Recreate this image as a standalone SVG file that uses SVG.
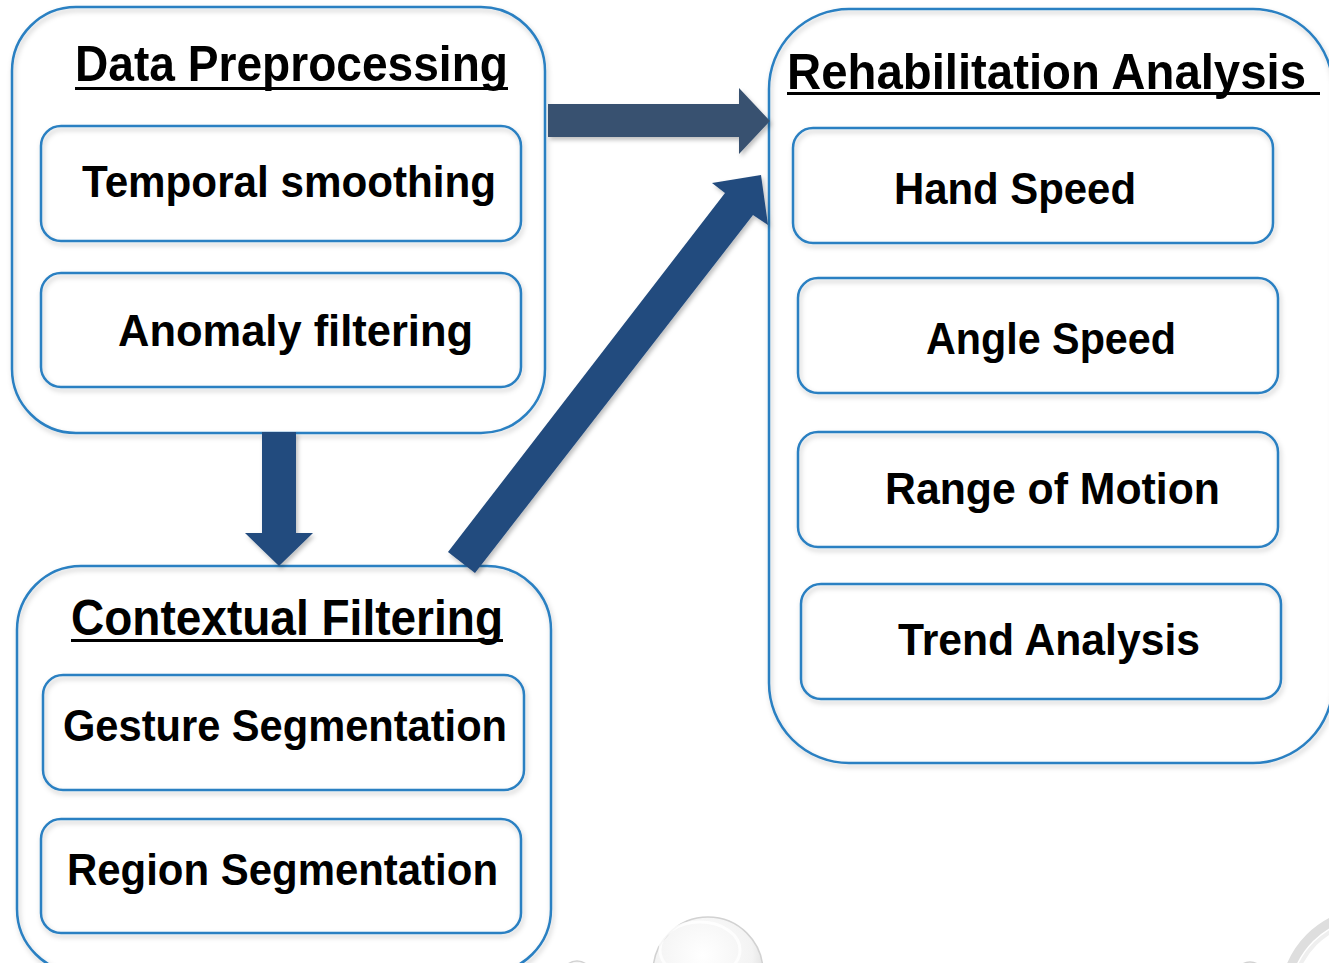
<svg xmlns="http://www.w3.org/2000/svg" width="1329" height="963" viewBox="0 0 1329 963">
  <defs>
    <filter id="soft" x="-10%" y="-10%" width="120%" height="130%">
      <feDropShadow dx="1.5" dy="3" stdDeviation="2.5" flood-color="#000" flood-opacity="0.22"/>
    </filter>
    <filter id="arrowShadow" x="-10%" y="-10%" width="130%" height="130%">
      <feDropShadow dx="2" dy="3" stdDeviation="2" flood-color="#000" flood-opacity="0.25"/>
    </filter>
    <radialGradient id="bubble" cx="45%" cy="35%" r="65%">
      <stop offset="0" stop-color="#ffffff"/>
      <stop offset="0.7" stop-color="#f3f3f3"/>
      <stop offset="1" stop-color="#d6d6d6"/>
    </radialGradient>
    <style>
      .outer { fill: none; stroke: #2b80c2; stroke-width: 2.5; }
      .inner { fill: none; stroke: #2b80c2; stroke-width: 2.5; }
      .title { font-family: "Liberation Sans", Arial, sans-serif; font-weight: bold; font-size: 50px; fill: #000; }
      .label { font-family: "Liberation Sans", Arial, sans-serif; font-weight: bold; font-size: 44px; fill: #000; }
      .rule { fill: #000; }
      .bub { fill: url(#bubble); stroke: #d2d2d2; stroke-width: 1.5; }
    </style>
  </defs>

  <rect width="1329" height="963" fill="#ffffff"/>

  <!-- background bubbles along the bottom edge -->
  <g id="decor">
    <circle class="bub" cx="708" cy="972" r="55"/>
    <ellipse cx="700" cy="950" rx="40" ry="28" fill="none" stroke="#ffffff" stroke-width="3" opacity="0.8"/>
    <circle class="bub" cx="577" cy="976" r="15"/>
    <circle class="bub" cx="1250" cy="976" r="14"/>
    <circle cx="1372" cy="1000" r="88" fill="none" stroke="#dedede" stroke-width="9"/>
    <circle cx="1372" cy="1000" r="80" fill="none" stroke="#efefef" stroke-width="4"/>
  </g>

  <!-- Data Preprocessing -->
  <g id="data-preprocessing">
    <rect class="outer" x="12" y="7" width="533" height="426" rx="64" filter="url(#soft)"/>
    <text class="title" x="75" y="81" textLength="433" lengthAdjust="spacingAndGlyphs">Data Preprocessing</text>
    <rect class="rule" x="75" y="87" width="433" height="3"/>
    <g id="temporal-smoothing">
      <rect class="inner" x="41" y="126" width="480" height="115" rx="20" filter="url(#soft)"/>
      <text class="label" x="82" y="197" textLength="414" lengthAdjust="spacingAndGlyphs">Temporal smoothing</text>
    </g>
    <g id="anomaly-filtering">
      <rect class="inner" x="41" y="273" width="480" height="114" rx="20" filter="url(#soft)"/>
      <text class="label" x="118" y="346" textLength="355" lengthAdjust="spacingAndGlyphs">Anomaly filtering</text>
    </g>
  </g>

  <!-- Contextual Filtering -->
  <g id="contextual-filtering">
    <rect class="outer" x="17" y="566" width="534" height="407" rx="64" filter="url(#soft)"/>
    <text class="title" x="71" y="635" textLength="432" lengthAdjust="spacingAndGlyphs">Contextual Filtering</text>
    <rect class="rule" x="71" y="639" width="432" height="3"/>
    <g id="gesture-segmentation">
      <rect class="inner" x="43" y="675" width="481" height="115" rx="20" filter="url(#soft)"/>
      <text class="label" x="63" y="741" textLength="444" lengthAdjust="spacingAndGlyphs">Gesture Segmentation</text>
    </g>
    <g id="region-segmentation">
      <rect class="inner" x="41" y="819" width="480" height="114" rx="20" filter="url(#soft)"/>
      <text class="label" x="67" y="885" textLength="431" lengthAdjust="spacingAndGlyphs">Region Segmentation</text>
    </g>
  </g>

  <!-- Rehabilitation Analysis -->
  <g id="rehabilitation-analysis">
    <rect class="outer" x="769" y="9" width="564" height="754" rx="80" filter="url(#soft)"/>
    <text class="title" x="787" y="89" textLength="519" lengthAdjust="spacingAndGlyphs">Rehabilitation Analysis</text>
    <rect class="rule" x="787" y="92" width="533" height="3"/>
    <g id="hand-speed">
      <rect class="inner" x="793" y="128" width="480" height="115" rx="20" filter="url(#soft)"/>
      <text class="label" x="894" y="204" textLength="242" lengthAdjust="spacingAndGlyphs">Hand Speed</text>
    </g>
    <g id="angle-speed">
      <rect class="inner" x="798" y="278" width="480" height="115" rx="20" filter="url(#soft)"/>
      <text class="label" x="926" y="354" textLength="250" lengthAdjust="spacingAndGlyphs">Angle Speed</text>
    </g>
    <g id="range-of-motion">
      <rect class="inner" x="798" y="432" width="480" height="115" rx="20" filter="url(#soft)"/>
      <text class="label" x="885" y="504" textLength="335" lengthAdjust="spacingAndGlyphs">Range of Motion</text>
    </g>
    <g id="trend-analysis">
      <rect class="inner" x="801" y="584" width="480" height="115" rx="20" filter="url(#soft)"/>
      <text class="label" x="898" y="655" textLength="302" lengthAdjust="spacingAndGlyphs">Trend Analysis</text>
    </g>
  </g>

  <!-- block arrows between the stages -->
  <g id="connectors" filter="url(#arrowShadow)">
    <polygon points="548,104 739,104 739,88 770,121 739,154 739,137 548,137" fill="#37516f"/>
    <polygon points="262,432 296,432 296,533 313,533 279,566 245,533 262,533" fill="#224b7e"/>
    <polygon points="448,552 725,193 712,183 761,175 768,225 753,215 475,573" fill="#224b7e"/>
  </g>
</svg>
